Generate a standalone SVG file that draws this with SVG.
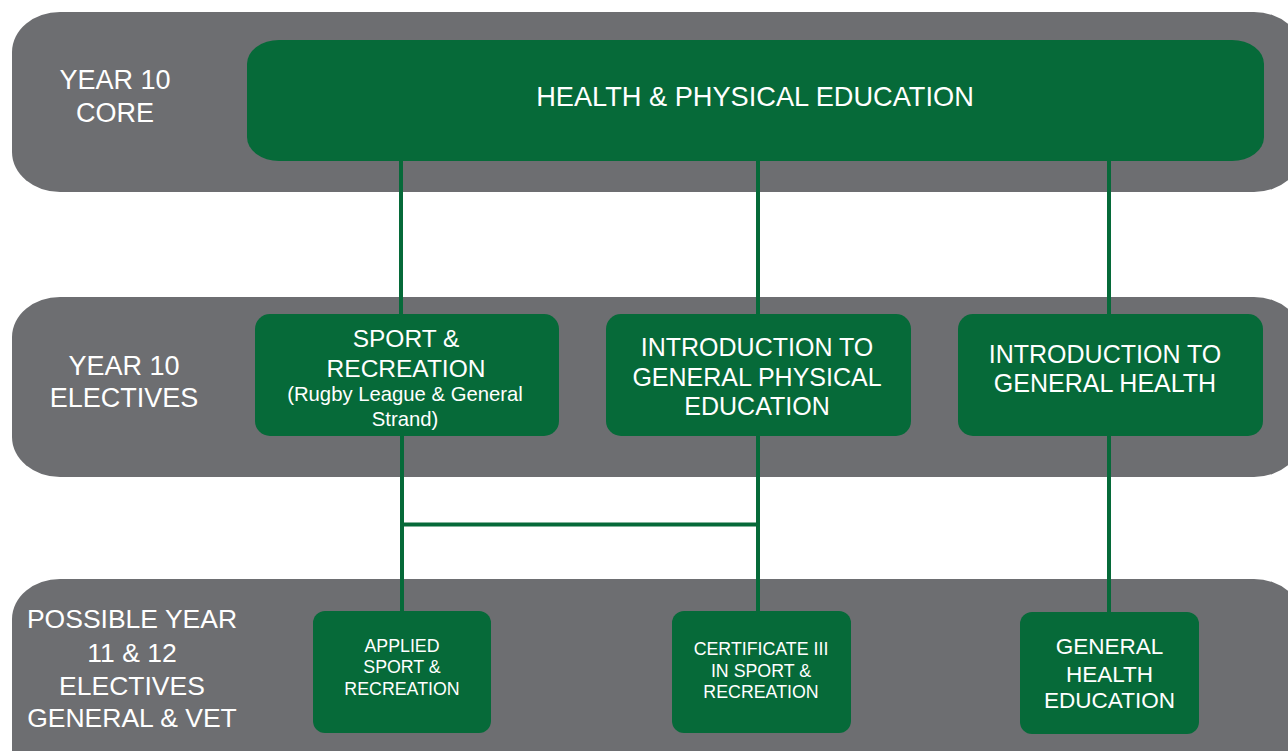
<svg xmlns="http://www.w3.org/2000/svg" width="1288" height="751" viewBox="0 0 1288 751">
<style>
.band{fill:#6d6e71}
.box{fill:#066a39}
text{font-family:"Liberation Sans",Arial,sans-serif;fill:#ffffff;text-anchor:middle}
.conn{stroke:#066a39;stroke-width:4;fill:none}
</style>
<rect width="1288" height="751" fill="#ffffff"/>
<g id="band-core"><rect class="band" x="12" y="12" width="1290" height="180" rx="48" ry="40"/>
<text x="115" y="89" font-size="27">YEAR 10</text><text x="115" y="122" font-size="27">CORE</text></g>
<g id="band-electives"><rect class="band" x="12" y="297" width="1290" height="180" rx="48" ry="40"/>
<text x="124" y="375" font-size="27">YEAR 10</text><text x="124" y="407" font-size="27">ELECTIVES</text></g>
<g id="band-senior"><rect class="band" x="12" y="579" width="1290" height="220" rx="48" ry="40"/>
<text x="132" y="628" font-size="26.5">POSSIBLE YEAR</text><text x="132" y="662" font-size="26.5">11 &amp; 12</text><text x="132" y="695" font-size="26.5">ELECTIVES</text><text x="132" y="727" font-size="26.5">GENERAL &amp; VET</text></g>
<g id="connectors">
<line class="conn" x1="401" y1="160" x2="401" y2="315"/>
<line class="conn" x1="758" y1="160" x2="758" y2="315"/>
<line class="conn" x1="1109" y1="160" x2="1109" y2="315"/>
<line class="conn" x1="402" y1="435" x2="402" y2="612"/>
<line class="conn" x1="758" y1="435" x2="758" y2="612"/>
<line class="conn" x1="1109" y1="435" x2="1109" y2="613"/>
<line class="conn" x1="400" y1="524.5" x2="760" y2="524.5" stroke-width="5"/>
</g>
<g id="node-hpe"><rect class="box" x="247" y="40" width="1017" height="121" rx="32" ry="24"/>
<text x="755" y="106" font-size="27.2">HEALTH &amp; PHYSICAL EDUCATION</text></g>
<g id="node-sport"><rect class="box" x="255" y="314" width="304" height="122" rx="15"/>
<text x="406" y="347" font-size="24.5">SPORT &amp;</text><text x="406" y="377" font-size="24.5">RECREATION</text>
<text x="405" y="401" font-size="20.3">(Rugby League &amp; General</text><text x="405" y="426" font-size="20.3">Strand)</text></g>
<g id="node-intro-pe"><rect class="box" x="606" y="314" width="305" height="122" rx="15"/>
<text x="757" y="355.5" font-size="25">INTRODUCTION TO</text><text x="757" y="385.5" font-size="25">GENERAL PHYSICAL</text><text x="757" y="414.5" font-size="25">EDUCATION</text></g>
<g id="node-intro-health"><rect class="box" x="958" y="314" width="305" height="122" rx="15"/>
<text x="1105" y="363" font-size="25">INTRODUCTION TO</text><text x="1105" y="392" font-size="25">GENERAL HEALTH</text></g>
<g id="node-applied"><rect class="box" x="313" y="611" width="178" height="122" rx="12"/>
<text x="402" y="652" font-size="17.8">APPLIED</text><text x="402" y="673" font-size="17.8">SPORT &amp;</text><text x="402" y="695" font-size="17.8">RECREATION</text></g>
<g id="node-cert"><rect class="box" x="672" y="611" width="179" height="122" rx="12"/>
<text x="761" y="655" font-size="17.8">CERTIFICATE III</text><text x="761" y="677" font-size="17.8">IN SPORT &amp;</text><text x="761" y="698" font-size="17.8">RECREATION</text></g>
<g id="node-gen-health"><rect class="box" x="1020" y="612" width="179" height="122" rx="12"/>
<text x="1109.5" y="654" font-size="22.5">GENERAL</text><text x="1109.5" y="682" font-size="22.5">HEALTH</text><text x="1109.5" y="708" font-size="22.5">EDUCATION</text></g>
</svg>
